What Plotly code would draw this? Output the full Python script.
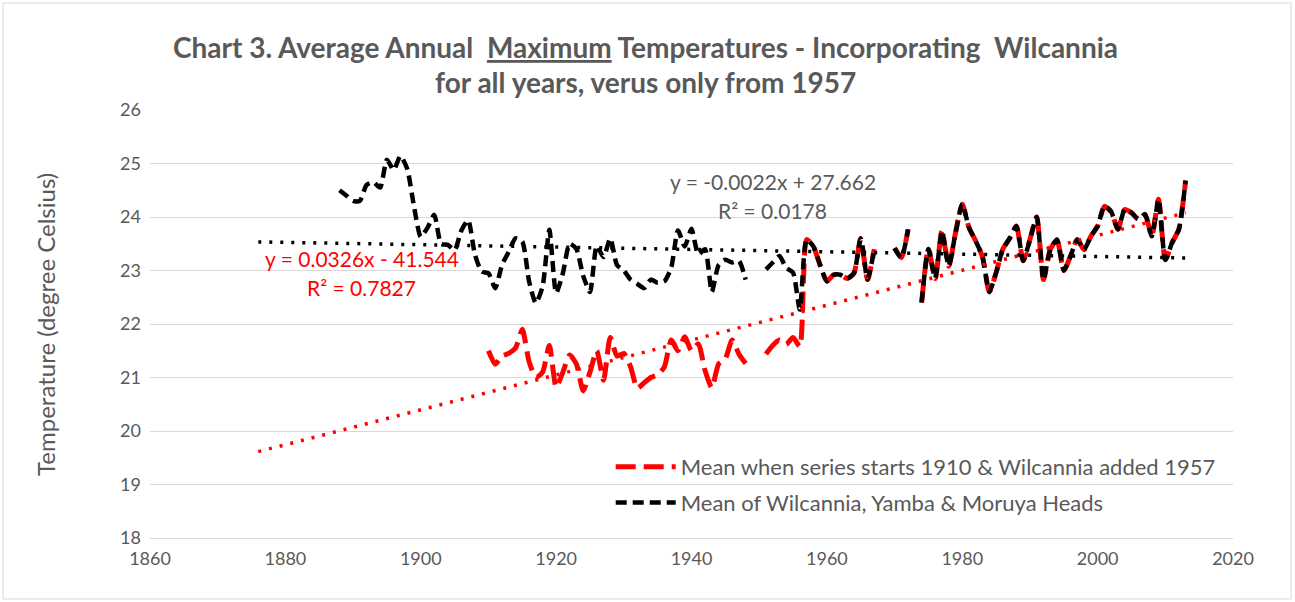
import plotly.graph_objects as go

# Mean of Wilcannia, Yamba & Moruya Heads (black), 1888-2013, None = missing year
black_start = 1888
black_temps = [
    24.5, 24.4,                                                      # 1888-1889
    24.3, 24.3, 24.6, 24.65, 24.55, 25.07, 24.88, 25.14, 24.9, 24.2,  # 1890s
    23.63, 23.8, 24.04, 23.5, 23.48, 23.38, 23.75, 23.94, 23.3, 22.98,  # 1900s
    22.95, 22.67, 23.1, 23.35, 23.6, 23.54, 22.8, 22.39, 22.7, 23.76,  # 1910s
    22.58, 22.95, 23.5, 23.4, 22.9, 22.6, 23.46, 23.25, 23.6, 23.1,    # 1920s
    23.0, 22.83, 22.75, 22.67, 22.83, 22.77, 22.8, 23.05, 23.75, 23.45,  # 1930s
    23.78, 23.3, 23.4, 22.6, 23.1, 23.2, 23.15, 23.18, 22.83, None,    # 1940s
    None, 23.02, 23.15, 23.27, 23.05, 22.96, 22.27, 23.58, 23.45, 23.1,  # 1950s
    22.8, 22.92, 22.92, 22.85, 22.95, 23.6, 22.83, 23.4, None, None,   # 1960s
    23.42, 23.24, 23.77, None, 22.4, 23.4, 22.85, 23.74, 23.08, 23.7,  # 1970s
    24.24, 23.8, 23.55, 23.25, 22.6, 22.96, 23.4, 23.6, 23.83, 23.18,  # 1980s
    23.58, 24.0, 22.83, 23.39, 23.58, 23.0, 23.27, 23.58, 23.39, 23.64,  # 1990s
    23.83, 24.2, 24.1, 23.77, 24.14, 24.08, 23.96, 24.05, 23.64, 24.33,  # 2000s
    23.2, 23.52, 23.77, 24.68,                                        # 2010-2013
]
black_years = list(range(black_start, black_start + len(black_temps)))

# Mean when series starts 1910 (red) - before Wilcannia is added in 1957
red_start = 1910
red_temps_pre1957 = [
    21.5, 21.25, 21.4, 21.45, 21.55, 21.9, 21.3, 21.0, 21.1, 21.6,     # 1910s
    20.82, 21.1, 21.42, 21.25, 20.75, 21.1, 21.5, 20.95, 21.75, 21.4,  # 1920s
    21.45, 21.2, 20.8, 20.9, 21.0, 21.05, 21.2, 21.7, 21.5, 21.76,     # 1930s
    21.5, 21.63, 21.13, 20.81, 21.25, 21.35, 21.7, 21.44, 21.26, None,  # 1940s
    None, 21.44, 21.6, 21.7, 21.62, 21.75, 21.58,                      # 1950-1956
]
# from 1957 both series are the same three-station mean
red_temps = red_temps_pre1957 + black_temps[1957 - black_start:]
red_years = list(range(red_start, red_start + len(red_temps)))

# linear trendlines as labelled on the chart
trend_years = [1876, 2013]
black_slope, black_icept, black_r2 = -0.0022, 27.662, 0.0178
red_slope, red_icept, red_r2 = 0.0326, -41.544, 0.7827

GREY = '#595959'
FONT = 'Lato, Open Sans, sans-serif'

fig = go.Figure()

fig.add_trace(go.Scatter(
    x=red_years, y=red_temps,
    name='Mean when series starts 1910 & Wilcannia added 1957',
    mode='lines', line=dict(color='#ff0000', width=5, dash='20px,8px', shape='spline', smoothing=0.6),
    connectgaps=False, legendgroup='a'
))

fig.add_trace(go.Scatter(
    x=black_years, y=black_temps,
    name='Mean of Wilcannia, Yamba & Moruya Heads',
    mode='lines', line=dict(color='#000000', width=4.5, dash='11px,6px', shape='spline', smoothing=0.6),
    connectgaps=False, legendgroup='b'
))

fig.add_trace(go.Scatter(
    x=trend_years, y=[black_slope * t + black_icept for t in trend_years],
    mode='lines', line=dict(color='#000000', width=3.5, dash='3px,8px'),
    showlegend=False, hoverinfo='skip'
))

fig.add_trace(go.Scatter(
    x=trend_years, y=[red_slope * t + red_icept for t in trend_years],
    mode='lines', line=dict(color='#ff0000', width=3.5, dash='3px,8px'),
    showlegend=False, hoverinfo='skip'
))

# trendline equations
fig.add_annotation(x=1891.3, y=23.23, text=f'y = {red_slope}x - {abs(red_icept)}',
                   showarrow=False, font=dict(family=FONT, size=21, color='#ff0000'))
fig.add_annotation(x=1891.3, y=22.69, text=f'R² = {red_r2}',
                   showarrow=False, font=dict(family=FONT, size=21, color='#ff0000'))
fig.add_annotation(x=1952.0, y=24.66, text=f'y = {black_slope}x + {black_icept}',
                   showarrow=False, font=dict(family=FONT, size=21, color=GREY))
fig.add_annotation(x=1952.0, y=24.13, text=f'R² = {black_r2}',
                   showarrow=False, font=dict(family=FONT, size=21, color=GREY))

# two-line title
fig.add_annotation(xref='paper', yref='paper', x=0.4575, y=1.1472, yanchor='middle',
                   text='<b>Chart 3. Average Annual  <u>Maximum</u> Temperatures - Incorporating  Wilcannia</b>',
                   showarrow=False, font=dict(family=FONT, size=28, color=GREY))
fig.add_annotation(xref='paper', yref='paper', x=0.4575, y=1.0654, yanchor='middle',
                   text='<b>for all years, verus only from 1957</b>',
                   showarrow=False, font=dict(family=FONT, size=28, color=GREY))

# y-axis title
fig.add_annotation(xref='paper', yref='paper', x=-0.097, y=0.5, textangle=-90,
                   xanchor='center', yanchor='middle',
                   text='Temperature (degree Celsius)', showarrow=False,
                   font=dict(family=FONT, size=24, color=GREY))

# chart-area border
fig.add_shape(type='rect', xref='paper', yref='paper',
              x0=-0.1357, x1=1.0536, y0=-0.1425, y1=1.25,
              line=dict(color='#d9d9d9', width=1))

fig.update_layout(
    width=1295, height=602,
    paper_bgcolor='white', plot_bgcolor='white',
    margin=dict(l=150, r=62, t=110, b=64),
    font=dict(family=FONT, color=GREY),
    xaxis=dict(
        range=[1860, 2020], dtick=20, tick0=1860,
        showgrid=False, zeroline=False,
        showline=True, linecolor='#d9d9d9', linewidth=1,
        ticks='', tickfont=dict(size=18, color=GREY), ticklabelstandoff=4
    ),
    yaxis=dict(
        range=[18, 26], dtick=1,
        showgrid=True, gridcolor='#d9d9d9', gridwidth=1,
        zeroline=False, showline=False, ticks='',
        tickfont=dict(size=18, color=GREY), ticklabelstandoff=8,
        automargin=False
    ),
    legend=dict(
        x=0.4254, y=0.215, xanchor='left', yanchor='top',
        bgcolor='rgba(0,0,0,0)', traceorder='grouped', tracegroupgap=4,
        font=dict(size=22, color=GREY), itemwidth=60
    ),
)

fig.write_html('out.html', config={'displayModeBar': False},
               post_script="document.body.style.margin='0px';")
